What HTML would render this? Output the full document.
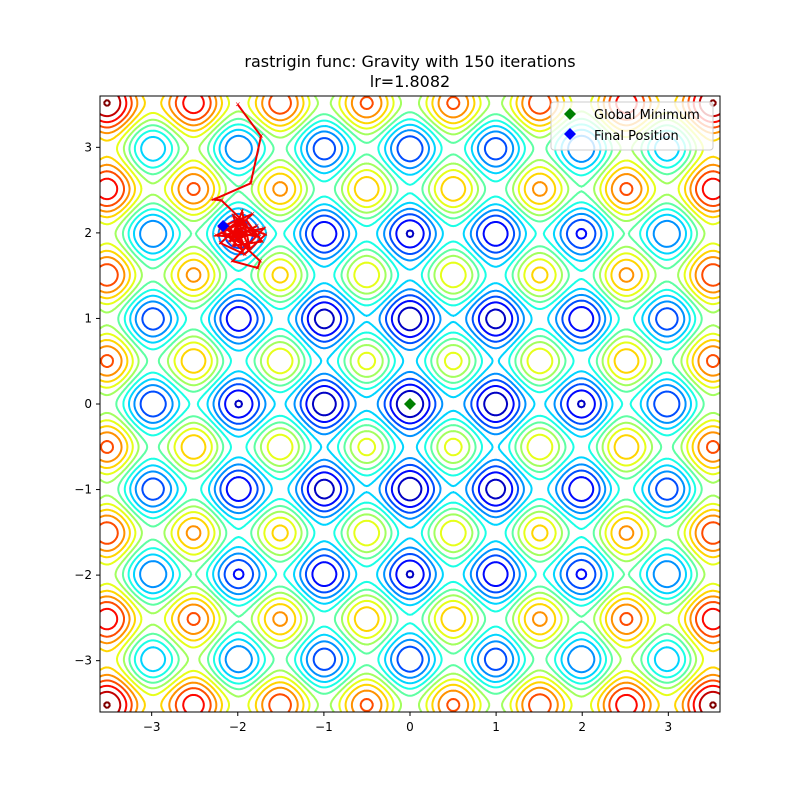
<!DOCTYPE html>
<html><head><meta charset="utf-8"><style>
body{margin:0;background:#fff;font-family:"Liberation Sans","DejaVu Sans",sans-serif;}
svg text{font-family:"DejaVu Sans","Liberation Sans",sans-serif;}
</style></head><body>
<svg id="chart" width="800" height="800" viewBox="0 0 800 800">
<rect width="800" height="800" fill="#fff"/>
<text x="410" y="67" text-anchor="middle" font-size="16">rastrigin func: Gravity with 150 iterations</text>
<text x="410" y="87" text-anchor="middle" font-size="16">lr=1.8082</text>
<defs><clipPath id="clip"><rect x="100" y="96" width="620" height="616"/></clipPath></defs>
<g id="contours" clip-path="url(#clip)"></g>
<g id="path" clip-path="url(#clip)"></g>
<rect x="100" y="96" width="620" height="616" fill="none" stroke="#000" stroke-width="1"/>
<g id="axes"></g>
<g>
<rect x="551" y="102" width="162" height="48" rx="3" fill="#fff" fill-opacity="0.8" stroke="#ccc"/>
<path d="M570 108 l6 6 l-6 6 l-6 -6z" fill="green"/>
<text x="594" y="119" font-size="13">Global Minimum</text>
<path d="M570 128 l6 6 l-6 6 l-6 -6z" fill="blue"/>
<text x="594" y="140" font-size="13">Final Position</text>
</g>
</svg>
<script>
const levels=[4.3,8.6,12.9,17.2,21.5,25.8,30.1,34.4,38.7,43.0,47.3,51.6,55.9,60.2,64.4];
const levelMax=64.5;
const xTicks=[-3,-2,-1,0,1,2,3];
const yTicks=[-3,-2,-1,0,1,2,3];
const pathX=[-2.0,-1.73,-1.85,-2.28,-2.19,-1.9,-2.1,-1.8,-2.05,-1.95,-2.2,-1.75,-2.0,-1.88,-2.15,-1.7,-2.06,-1.77,-1.74,-1.98,-2.12,-1.83,-2.2,-1.92,-1.68,-2.02,-2.18,-1.86,-1.95,-2.08,-1.78,-2.0,-2.25,-1.9,-1.72,-2.05,-1.97,-2.13,-1.82,-2.02,-1.94,-2.17];
const pathY=[3.5,3.13,2.58,2.39,2.38,2.1,1.9,2.0,2.2,1.8,2.05,1.95,2.15,1.85,1.98,2.05,1.67,1.59,1.67,1.9,2.1,2.22,1.88,1.75,1.98,2.12,2.0,1.82,2.25,1.93,2.08,1.95,1.97,2.15,1.9,1.85,2.05,1.96,1.98,2.1,1.88,2.08];
const globalMin=[0,0];
const finalPos=[-2.17,2.08];
const X0=-3.6,X1=3.6,Y0=-3.6,Y1=3.6;
const sx=v=>100+(v-X0)/(X1-X0)*620;
const sy=v=>712-(v-Y0)/(Y1-Y0)*616;
const NS="http://www.w3.org/2000/svg";
function f(x,y){return 20+x*x-10*Math.cos(2*Math.PI*x)+y*y-10*Math.cos(2*Math.PI*y);}
function jet(t){const c=v=>Math.round(255*Math.max(0,Math.min(1,v)));return `rgb(${c(1.5-Math.abs(4*t-3))},${c(1.5-Math.abs(4*t-2))},${c(1.5-Math.abs(4*t-1))})`;}
const N=300,G=[];
for(let j=0;j<=N;j++){G.push([]);for(let i=0;i<=N;i++)G[j].push(f(X0+(X1-X0)*i/N,Y0+(Y1-Y0)*j/N));}
const cg=document.getElementById('contours');
levels.forEach(L=>{
 let d="";
 const px=i=>sx(X0+(X1-X0)*i/N),py=j=>sy(Y0+(Y1-Y0)*j/N);
 for(let j=0;j<N;j++)for(let i=0;i<N;i++){
  const a=G[j][i],b=G[j][i+1],c=G[j+1][i+1],e=G[j+1][i];
  const pts=[];
  if((a<L)!==(b<L)){const t=(L-a)/(b-a);pts.push([px(i+t),py(j)]);}
  if((b<L)!==(c<L)){const t=(L-b)/(c-b);pts.push([px(i+1),py(j+t)]);}
  if((e<L)!==(c<L)){const t=(L-e)/(c-e);pts.push([px(i+t),py(j+1)]);}
  if((a<L)!==(e<L)){const t=(L-a)/(e-a);pts.push([px(i),py(j+t)]);}
  for(let k=0;k+1<pts.length;k+=2)d+=`M${pts[k][0].toFixed(1)} ${pts[k][1].toFixed(1)}L${pts[k+1][0].toFixed(1)} ${pts[k+1][1].toFixed(1)}`;
 }
 const p=document.createElementNS(NS,'path');
 p.setAttribute('d',d);p.setAttribute('fill','none');p.setAttribute('stroke',jet(L/levelMax));
 p.setAttribute('stroke-width','2');p.setAttribute('stroke-linecap','round');
 
 
 cg.appendChild(p);
});
const pg=document.getElementById('path');
const pl=document.createElementNS(NS,'polyline');
pl.setAttribute('points',pathX.map((x,i)=>sx(x)+','+sy(pathY[i])).join(' '));
pl.setAttribute('fill','none');pl.setAttribute('stroke','#e00');pl.setAttribute('stroke-width','2');


pg.appendChild(pl);
pathX.forEach((x,i)=>{const m=document.createElementNS(NS,'text');m.setAttribute('x',sx(x));m.setAttribute('y',sy(pathY[i])+2);m.setAttribute('text-anchor','middle');m.setAttribute('font-size','7');m.setAttribute('fill','#e00');m.textContent='×';


pg.appendChild(m);});
function diamond(p,col,name){const g=document.createElementNS(NS,'path');const x=sx(p[0]),y=sy(p[1]);g.setAttribute('d',`M${x} ${y-6}l6 6l-6 6l-6 -6z`);g.setAttribute('fill',col);


pg.appendChild(g);}
diamond(globalMin,'green','global-minimum-marker');
diamond(finalPos,'blue','final-position-marker');
const ax=document.getElementById('axes');
xTicks.forEach(v=>{const x=sx(v);
 const l=document.createElementNS(NS,'line');l.setAttribute('x1',x);l.setAttribute('x2',x);l.setAttribute('y1',712);l.setAttribute('y2',716);l.setAttribute('stroke','#000');
 
 
 ax.appendChild(l);
 const t=document.createElementNS(NS,'text');t.setAttribute('x',x);t.setAttribute('y',731);t.setAttribute('text-anchor','middle');t.setAttribute('font-size','12');t.textContent=(v<0?'\u2212':'')+Math.abs(v);
 
 
 ax.appendChild(t);});
yTicks.forEach(v=>{const y=sy(v);
 const l=document.createElementNS(NS,'line');l.setAttribute('x1',96);l.setAttribute('x2',100);l.setAttribute('y1',y);l.setAttribute('y2',y);l.setAttribute('stroke','#000');
 
 
 ax.appendChild(l);
 const t=document.createElementNS(NS,'text');t.setAttribute('x',92);t.setAttribute('y',y+4);t.setAttribute('text-anchor','end');t.setAttribute('font-size','12');t.textContent=(v<0?'\u2212':'')+Math.abs(v);
 
 
 ax.appendChild(t);});
</script>
</body></html>
